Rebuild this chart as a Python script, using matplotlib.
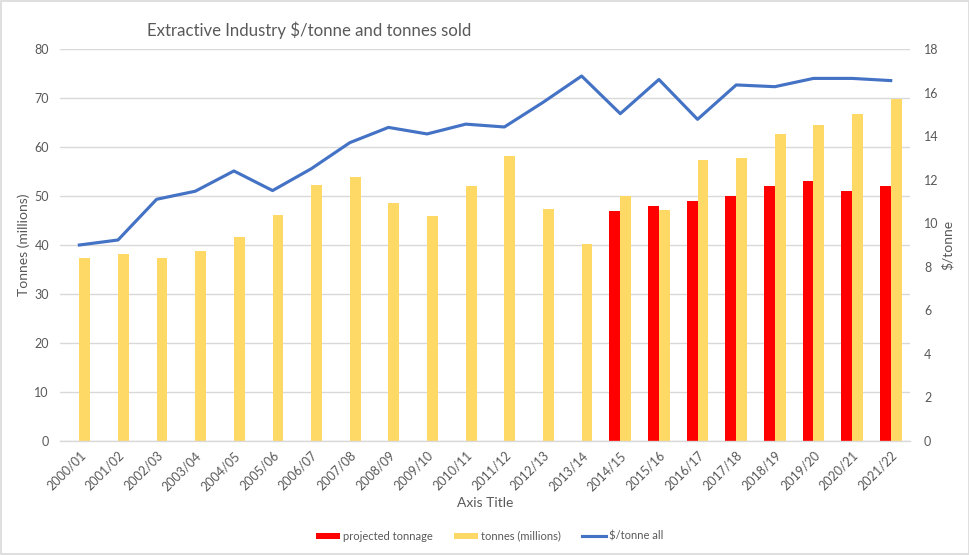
import matplotlib
matplotlib.use("Agg")
import matplotlib.pyplot as plt
import numpy as np
from matplotlib.patches import Rectangle, Patch
from matplotlib.lines import Line2D

plt.rcParams['font.family'] = ['Lato', 'DejaVu Sans']

categories = ["2000/01", "2001/02", "2002/03", "2003/04", "2004/05", "2005/06",
              "2006/07", "2007/08", "2008/09", "2009/10", "2010/11", "2011/12",
              "2012/13", "2013/14", "2014/15", "2015/16", "2016/17", "2017/18",
              "2018/19", "2019/20", "2020/21", "2021/22"]
projected_tonnage = [np.nan] * 14 + [47, 48, 49, 50, 52, 53, 51, 52]
tonnes_millions = [37.3, 38.2, 37.4, 38.7, 41.7, 46.1, 52.3, 53.8, 48.6, 46.0,
                   52.1, 58.2, 47.4, 40.3, 50.0, 47.2, 57.3, 57.8, 62.6, 64.5,
                   66.7, 69.8]
price_per_tonne = [9.0, 9.23, 11.1, 11.47, 12.4, 11.5, 12.5, 13.7, 14.4, 14.1,
                   14.55, 14.42, 15.55, 16.76, 15.03, 16.6, 14.77, 16.35, 16.27,
                   16.65, 16.65, 16.55]

left_ticks = list(range(0, 81, 10))
right_ticks = list(range(0, 19, 2))

grey_text = "#595959"
grid_col = "#d9d9d9"
red = "#FF0000"
yellow = "#FFD966"
blue = "#4472C4"

fig = plt.figure(figsize=(9.7, 5.55), dpi=100)
fig.patches.append(Rectangle((0.0015, 0.002), 0.997, 0.996, transform=fig.transFigure,
                             fill=False, edgecolor=grid_col, linewidth=1.2))

ax = fig.add_axes([0.0619, 0.2054, 0.8763, 0.7063])
x = np.arange(len(categories))
w = 0.28
ax.bar(x - w / 2, projected_tonnage, width=w, color=red, zorder=2)
ax.bar(x + w / 2, tonnes_millions, width=w, color=yellow, zorder=2)
ax.set_xlim(-0.5, len(categories) - 0.5)
ax.set_ylim(0, 80)
ax.set_yticks(left_ticks)
ax.yaxis.grid(True, color=grid_col, linewidth=1.0, zorder=0)
ax.set_axisbelow(True)
for s in ["top", "right", "left"]:
    ax.spines[s].set_visible(False)
ax.spines["bottom"].set_color(grid_col)
ax.spines["bottom"].set_linewidth(1.0)
ax.tick_params(axis="both", length=0, colors=grey_text, labelsize=9)
ax.tick_params(axis="y", pad=8)
ax.set_xticks(x)
ax.set_xticklabels(categories, rotation=45, ha="right", rotation_mode="anchor")
ax.tick_params(axis="x", pad=6)
ax.set_ylabel("Tonnes (millions)", color=grey_text, fontsize=10, labelpad=3)
ax.set_xlabel("Axis Title", color=grey_text, fontsize=10, labelpad=3)

ax2 = ax.twinx()
ax2.plot(x, price_per_tonne, color=blue, linewidth=2.25, solid_joinstyle="round", zorder=3)
ax2.set_ylim(0, 18)
ax2.set_yticks(right_ticks)
for s in ["top", "right", "left", "bottom"]:
    ax2.spines[s].set_visible(False)
ax2.tick_params(axis="y", length=0, colors=grey_text, labelsize=9, pad=10)
ax2.set_ylabel("$/tonne", color=grey_text, fontsize=10, labelpad=2)

fig.text(0.1515, 0.946, "Extractive Industry $/tonne and tonnes sold",
         color=grey_text, fontsize=12.1, ha="left", va="center")

handles = [Patch(facecolor=red, edgecolor="none"),
           Patch(facecolor=yellow, edgecolor="none"),
           Line2D([0], [0], color=blue, linewidth=2.25)]
labels = ["projected tonnage", "tonnes (millions)", "$/tonne all"]
leg = fig.legend(handles, labels, loc="center", bbox_to_anchor=(0.505, 0.034), ncol=3,
                 frameon=False, fontsize=8, handlelength=2.15, handleheight=0.5,
                 columnspacing=1.9, handletextpad=0.3)
for t in leg.get_texts():
    t.set_color(grey_text)

fig.savefig("out.png", dpi=100)
